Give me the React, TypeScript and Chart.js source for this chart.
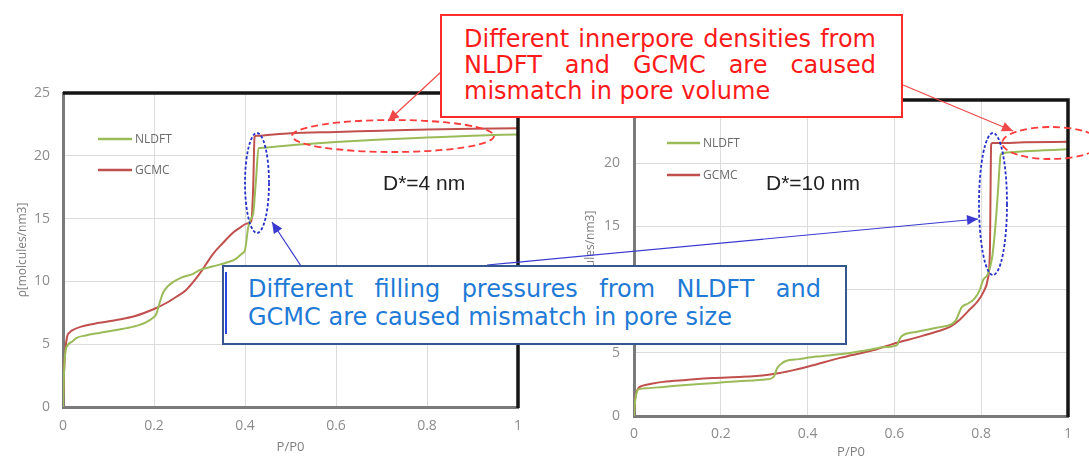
import React, { useEffect, useRef } from 'react';
import { Chart, registerables } from 'chart.js';

Chart.register(...registerables);

// ---------------- data ----------------
const seriesNames = ['NLDFT', 'GCMC'];
const seriesColors = ['#9bbb59', '#c0504d'];
const xTickValues = [0, 0.2, 0.4, 0.6, 0.8, 1];
const yTickValues = [0, 5, 10, 15, 20, 25];
const xAxisTitle = 'P/P0';
const yAxisTitle = 'ρ[molcules/nm3]';
const panelLabels = ['D*=4 nm', 'D*=10 nm'];

// D* = 4 nm
const nldft4P = [0, 0.002, 0.005, 0.01, 0.02, 0.03, 0.05, 0.08, 0.12, 0.155, 0.18, 0.198, 0.205, 0.21, 0.215, 0.22, 0.23, 0.24, 0.26, 0.286, 0.3, 0.33, 0.36, 0.38, 0.393, 0.4, 0.407, 0.413, 0.418, 0.424, 0.43, 0.44, 0.47, 0.52, 0.6, 0.7, 0.8, 0.9, 1];
const nldft4Rho = [0, 2.5, 4.3, 4.9, 5.2, 5.5, 5.7, 5.9, 6.15, 6.4, 6.7, 7.1, 7.4, 8.0, 8.6, 9.1, 9.6, 9.9, 10.3, 10.6, 10.9, 11.2, 11.5, 11.8, 12.2, 12.5, 14.3, 15.0, 15.4, 18.0, 20.6, 20.65, 20.75, 20.9, 21.1, 21.3, 21.45, 21.6, 21.7];
const gcmc4P = [0, 0.002, 0.005, 0.009, 0.015, 0.02, 0.04, 0.08, 0.12, 0.155, 0.2, 0.228, 0.25, 0.27, 0.3, 0.33, 0.35, 0.374, 0.39, 0.404, 0.414, 0.418, 0.421, 0.425, 0.435, 0.45, 0.5, 0.6, 0.7, 0.8, 0.9, 1];
const gcmc4Rho = [0, 2.5, 4.5, 5.6, 5.95, 6.1, 6.4, 6.7, 6.95, 7.2, 7.8, 8.3, 8.8, 9.3, 10.6, 12.2, 13.0, 13.9, 14.3, 14.6, 14.8, 17.5, 21.5, 21.6, 21.6, 21.65, 21.8, 21.9, 22.0, 22.1, 22.15, 22.2];

// D* = 10 nm
const nldft10P = [0, 0.002, 0.005, 0.01, 0.03, 0.067, 0.12, 0.18, 0.24, 0.306, 0.322, 0.33, 0.34, 0.35, 0.38, 0.42, 0.48, 0.536, 0.58, 0.606, 0.612, 0.62, 0.65, 0.7, 0.74, 0.755, 0.77, 0.785, 0.797, 0.805, 0.815, 0.825, 0.83, 0.835, 0.84, 0.845, 0.86, 0.9, 1];
const nldft10Rho = [0, 1.0, 1.7, 2.1, 2.2, 2.3, 2.45, 2.6, 2.75, 2.9, 3.1, 3.8, 4.15, 4.35, 4.5, 4.7, 4.9, 5.2, 5.45, 5.6, 6.1, 6.4, 6.65, 7.0, 7.5, 8.6, 8.9, 9.3, 10.0, 10.8, 11.2, 12.5, 14.0, 16.0, 18.5, 20.7, 20.85, 20.95, 21.1];
const gcmc10P = [0, 0.002, 0.005, 0.01, 0.02, 0.04, 0.067, 0.12, 0.18, 0.25, 0.306, 0.336, 0.37, 0.41, 0.475, 0.5, 0.55, 0.606, 0.65, 0.7, 0.73, 0.75, 0.77, 0.79, 0.805, 0.815, 0.82, 0.823, 0.826, 0.84, 0.9, 1];
const gcmc10Rho = [0, 1.2, 1.8, 2.2, 2.4, 2.55, 2.7, 2.85, 3.0, 3.1, 3.25, 3.4, 3.65, 4.0, 4.6, 4.8, 5.2, 5.8, 6.2, 6.7, 7.1, 7.6, 8.3, 9.0, 9.8, 10.8, 13.0, 21.5, 21.6, 21.6, 21.65, 21.7];

const redNoteLines = ['Different innerpore densities from', 'NLDFT and GCMC are caused', 'mismatch in pore volume'];
const blueNoteLines = ['Different filling pressures from NLDFT and', 'GCMC are caused mismatch in pore size'];

// ---------------- helpers ----------------
const zip = (xs: number[], ys: number[]) => xs.map((x, i) => ({ x, y: ys[i] }));

const tickFont = { family: '"Open Sans", sans-serif', size: 14 };
const tickColor = '#8c8c8c';

const frameLegendPlugin = {
  id: 'frameLegend',
  afterDatasetsDraw(chart: any, _args: any, opts: any) {
    const { ctx, chartArea } = chart;
    const { left, top, right, bottom } = chartArea;
    ctx.save();
    ctx.strokeStyle = '#151515';
    ctx.lineWidth = 3.5;
    ctx.beginPath();
    ctx.moveTo(left, top);
    ctx.lineTo(right, top);
    ctx.lineTo(right, bottom + 1);
    ctx.stroke();
    chart.data.datasets.forEach((ds: any, i: number) => {
      const y = top + opts.legendY + i * opts.legendGap;
      ctx.strokeStyle = ds.borderColor;
      ctx.lineWidth = 2.5;
      ctx.beginPath();
      ctx.moveTo(left + opts.legendX, y);
      ctx.lineTo(left + opts.legendX + opts.legendLen, y);
      ctx.stroke();
      ctx.fillStyle = '#6a6a6a';
      ctx.font = '12px "Open Sans", sans-serif';
      ctx.textBaseline = 'middle';
      ctx.textAlign = 'left';
      ctx.fillText(ds.label, left + opts.legendX + opts.legendLen + 3, y + 0.5);
    });
    ctx.restore();
  },
};

type PanelProps = {
  x: number; w: number;
  nx: number[]; ny: number[]; gx: number[]; gy: number[];
  padTop: number; padRight: number; yAxisW: number; xAxisH: number;
  yTitlePad: number; xTitlePad: number; xTickPad: number; yTickPad: number;
  hideTop: boolean;
  legendX: number; legendY: number; legendGap: number; legendLen: number;
};

function Panel(p: PanelProps) {
  const ref = useRef<HTMLCanvasElement>(null);
  useEffect(() => {
    const chart = new Chart(ref.current as HTMLCanvasElement, {
      type: 'line',
      data: {
        datasets: [
          { label: seriesNames[0], data: zip(p.nx, p.ny), borderColor: seriesColors[0], backgroundColor: seriesColors[0], borderWidth: 2, pointRadius: 0, fill: false, cubicInterpolationMode: 'monotone' },
          { label: seriesNames[1], data: zip(p.gx, p.gy), borderColor: seriesColors[1], backgroundColor: seriesColors[1], borderWidth: 2, pointRadius: 0, fill: false, cubicInterpolationMode: 'monotone' },
        ],
      },
      options: {
        animation: false,
        responsive: false,
        maintainAspectRatio: false,
        layout: { padding: { left: 0, top: p.padTop, right: p.padRight, bottom: 0 } },
        plugins: {
          legend: { display: false },
          tooltip: { enabled: false },
          frameLegend: { legendX: p.legendX, legendY: p.legendY, legendGap: p.legendGap, legendLen: p.legendLen },
        } as any,
        scales: {
          x: {
            type: 'linear', min: 0, max: 1,
            afterBuildTicks: (s: any) => { s.ticks = xTickValues.map((v) => ({ value: v })); },
            afterFit: (s: any) => { s.height = p.xAxisH; },
            ticks: { font: tickFont, color: tickColor, padding: p.xTickPad, maxRotation: 0, callback: (v: any) => String(Math.round(Number(v) * 10) / 10) },
            grid: { color: '#dcdcdc', lineWidth: 1, drawTicks: false },
            border: { color: '#7a7a7a', width: 3 },
            title: { display: true, text: xAxisTitle, color: '#7f7f7f', font: { family: '"Open Sans", sans-serif', size: 13 }, padding: { top: 0, bottom: p.xTitlePad } },
          },
          y: {
            type: 'linear', min: 0, max: 25,
            afterBuildTicks: (s: any) => { s.ticks = yTickValues.map((v) => ({ value: v })); },
            afterFit: (s: any) => { s.width = p.yAxisW; },
            ticks: { font: tickFont, color: tickColor, padding: p.yTickPad, callback: (v: any) => (p.hideTop && Number(v) === 25 ? '' : String(v)) },
            grid: { color: '#dcdcdc', lineWidth: 1, drawTicks: false },
            border: { color: '#7a7a7a', width: 3 },
            title: { display: true, text: yAxisTitle, color: '#7f7f7f', font: { family: '"Open Sans", sans-serif', size: 12 }, padding: { top: p.yTitlePad, bottom: 0 } },
          },
        },
      } as any,
      plugins: [frameLegendPlugin as any],
    } as any);
    return () => chart.destroy();
  }, []);
  return (
    <canvas ref={ref} width={p.w} height={462}
      style={{ position: 'absolute', left: p.x, top: 0, width: p.w, height: 462 }} />
  );
}

function arrowHead(x1: number, y1: number, x2: number, y2: number, len: number, half: number) {
  const a = Math.atan2(y2 - y1, x2 - x1);
  const bx = x2 - len * Math.cos(a), by = y2 - len * Math.sin(a);
  const px = -Math.sin(a) * half, py = Math.cos(a) * half;
  return `${x2},${y2} ${bx + px},${by + py} ${bx - px},${by - py}`;
}

function Arrow({ x1, y1, x2, y2, color }: any) {
  return (
    <g>
      <line x1={x1} y1={y1} x2={x2} y2={y2} stroke={color} strokeWidth={1.2} />
      <polygon points={arrowHead(x1, y1, x2, y2, 11, 5)} fill={color} />
    </g>
  );
}

const noteFont = '"DejaVu Sans", Verdana, sans-serif';

export default function App() {
  return (
    <div style={{ position: 'absolute', left: 0, top: 0, width: 1089, height: 462, background: '#fff', overflow: 'hidden' }}>
      <Panel x={0} w={545} nx={nldft4P} ny={nldft4Rho} gx={gcmc4P} gy={gcmc4Rho}
        padTop={93} padRight={27} yAxisW={63} xAxisH={55} yTitlePad={15} xTitlePad={7} xTickPad={11} yTickPad={13}
        hideTop={false} legendX={35} legendY={46} legendGap={31} legendLen={34} />
      <Panel x={572} w={517} nx={nldft10P} ny={nldft10Rho} gx={gcmc10P} gy={gcmc10Rho}
        padTop={100} padRight={21} yAxisW={62} xAxisH={46} yTitlePad={11} xTitlePad={2} xTickPad={10} yTickPad={14}
        hideTop={true} legendX={33} legendY={43} legendGap={32} legendLen={33} />

      <div style={{ position: 'absolute', left: 383, top: 173, font: `21px "Liberation Sans", Arial, sans-serif`, lineHeight: '20px', color: '#222', whiteSpace: 'nowrap' }}>{panelLabels[0]}</div>
      <div style={{ position: 'absolute', left: 766, top: 173, font: `21px "Liberation Sans", Arial, sans-serif`, lineHeight: '20px', color: '#222', whiteSpace: 'nowrap' }}>{panelLabels[1]}</div>

      <svg width={1089} height={462} style={{ position: 'absolute', left: 0, top: 0, pointerEvents: 'none' }}>
        <ellipse cx={393} cy={136} rx={101} ry={16} fill="none" stroke="#ff3b3b" strokeWidth={1.8} strokeDasharray="7 4" />
        <ellipse cx={1051} cy={143} rx={49} ry={16} fill="none" stroke="#ff3b3b" strokeWidth={1.8} strokeDasharray="7 4" />
        <ellipse cx={257} cy={183} rx={12} ry={50} fill="none" stroke="#2430c8" strokeWidth={1.8} strokeDasharray="3 2" />
        <ellipse cx={993} cy={204} rx={14} ry={71} fill="none" stroke="#2430c8" strokeWidth={1.8} strokeDasharray="3 2" />
        <Arrow x1={441} y1={72} x2={388} y2={121} color="#f04848" />
        <Arrow x1={903} y1={85} x2={1013} y2={131} color="#f04848" />
        <Arrow x1={301} y1={266} x2={272} y2={222} color="#3a3ad0" />
        <Arrow x1={487} y1={265} x2={978} y2={219} color="#3a3ad0" />
      </svg>

      <div style={{ position: 'absolute', left: 440, top: 14, width: 463, height: 104, boxSizing: 'border-box', border: '2px solid #ff2a2a', background: '#fff', padding: '10px 25px 0 22px', font: `24px ${noteFont}`, lineHeight: '26px', color: '#ff1a1a' }}>
        {redNoteLines.map((t, i) => (
          <div key={i} style={{ textAlign: 'justify', textAlignLast: i < 2 ? 'justify' : 'left', whiteSpace: 'nowrap' } as any}>{t}</div>
        ))}
      </div>

      <div style={{ position: 'absolute', left: 222, top: 265, width: 625, height: 80, boxSizing: 'border-box', border: '2px solid #35568f', background: '#fff', padding: '8px 24px 0 24px', font: `24px ${noteFont}`, lineHeight: '28px', color: '#1f7bd6' }}>
        <div style={{ position: 'absolute', left: 1, top: 5, width: 2, height: 62, background: '#2a45e0' }} />
        {blueNoteLines.map((t, i) => (
          <div key={i} style={{ textAlign: 'justify', textAlignLast: i < 1 ? 'justify' : 'left', whiteSpace: 'nowrap' } as any}>{t}</div>
        ))}
      </div>
    </div>
  );
}
